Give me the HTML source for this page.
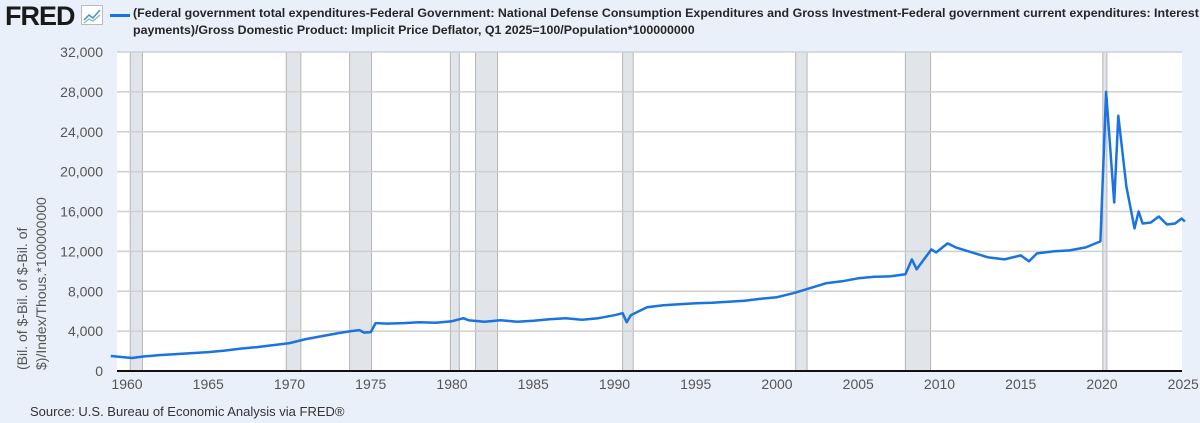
<!DOCTYPE html>
<html><head><meta charset="utf-8"><style>
body{margin:0;width:1200px;height:423px;background:#eaf0f9;font-family:"Liberation Sans",sans-serif;overflow:hidden;position:relative}
.t{position:absolute;left:133px;top:5px;font-size:12.4px;font-weight:bold;color:#262626;line-height:17px;width:1066px}
</style></head><body>
<div style="position:absolute;left:5px;top:1px;font-size:27px;font-weight:900;color:#1a1a1a;letter-spacing:-1px">FRED</div>
<svg style="position:absolute;left:81px;top:5px" width="22" height="20"><rect x="0.5" y="0.5" width="21" height="19" fill="#fff" stroke="#bbb"/><polyline points="3,15 8,10 12,13 19,5" fill="none" stroke="#4a8fd6" stroke-width="1.5"/><polyline points="3,18 8,14 12,16 19,10" fill="none" stroke="#7cc0a8" stroke-width="1.2"/></svg>
<div style="position:absolute;left:110px;top:14px;width:20px;height:3px;background:#1a73e0"></div>
<div class="t">(Federal government total expenditures-Federal Government: National Defense Consumption Expenditures and Gross Investment-Federal government current expenditures: Interest payments)/Gross Domestic Product: Implicit Price Deflator, Q1 2025=100/Population*100000000</div>
<div style="position:absolute;left:30px;top:404px;font-size:13px;color:#333">Source: U.S. Bureau of Economic Analysis via FRED®</div>
<svg id="c" width="1200" height="423" style="position:absolute;left:0;top:0"></svg>
<script>
const years=[1959,1960.3,1961,1962,1963,1964,1965,1966,1967,1968,1969,1970,1970.5,1971,1972,1973,1973.8,1974.3,1974.6,1975,1975.3,1976,1977,1978,1979,1980,1980.7,1981,1982,1983,1984,1985,1986,1987,1988,1989,1990,1990.5,1990.75,1991,1992,1993,1994,1995,1996,1997,1998,1999,2000,2001,2002,2003,2004,2005,2006,2007,2007.9,2008.3,2008.6,2009,2009.5,2009.8,2010.5,2011,2012,2013,2014,2015,2015.5,2016,2017,2018,2019,2019.9,2020.25,2020.75,2021,2021.5,2022,2022.25,2022.5,2023,2023.5,2024,2024.5,2024.9,2025.1];
const values=[1500,1300,1450,1600,1700,1800,1900,2050,2250,2400,2600,2800,3000,3200,3500,3800,4000,4100,3850,3900,4800,4750,4800,4900,4850,5000,5300,5100,4950,5100,4950,5050,5200,5300,5150,5300,5600,5800,4900,5600,6400,6600,6700,6800,6850,6950,7050,7250,7400,7800,8300,8800,9000,9300,9450,9500,9700,11200,10200,11100,12200,11900,12800,12400,11900,11400,11200,11600,11000,11800,12000,12100,12400,13000,28000,16900,25600,18500,14300,16000,14800,14900,15500,14700,14800,15300,15000];
const yTicks=[0,4000,8000,12000,16000,20000,24000,28000,32000];
const xTicks=[1960,1965,1970,1975,1980,1985,1990,1995,2000,2005,2010,2015,2020,2025];
const recessions=[[1960.2,1960.95],[1969.8,1970.7],[1973.7,1975.05],[1979.9,1980.45],[1981.45,1982.8],[1990.5,1991.15],[2001.15,2001.85],[2007.9,2009.45],[2020.05,2020.3]];
const L=117,R=1182,T=52,B=371;
const X=y=>127+(y-1960)*16.25, Y=v=>B-v/32000*(B-T);
const s=document.getElementById('c'),NS='http://www.w3.org/2000/svg';
function mk(t,a){const e=document.createElementNS(NS,t);for(const k in a)e.setAttribute(k,a[k]);s.appendChild(e);return e;}
let bg=mk('rect',{x:L,y:T,width:R-L,height:B-T,fill:'#fff'});


recessions.forEach(r=>{const e=mk('rect',{x:X(r[0]),y:T,width:X(r[1])-X(r[0]),height:B-T,fill:'#e1e5ea',stroke:'#b5b5b5','stroke-width':1});

});
yTicks.forEach(v=>{const g=mk('line',{x1:L,x2:R,y1:Y(v),y2:Y(v),stroke:'#cfcfcf','stroke-width':1.5});


const t=mk('text',{x:103,y:Y(v)+5,'text-anchor':'end','font-size':14,fill:'#555'});t.textContent=v.toLocaleString('en-US');

});
xTicks.forEach(y=>{const t=mk('text',{x:X(y),y:389,'text-anchor':'middle','font-size':14,fill:'#555'});t.textContent=y;

});
const ax=mk('line',{x1:L,x2:R,y1:B,y2:B,stroke:'#111','stroke-width':2});


const ln=mk('polyline',{points:years.map((y,i)=>X(y).toFixed(1)+','+Y(values[i]).toFixed(1)).join(' '),fill:'none',stroke:'#1a73e0','stroke-width':2.5,'stroke-linejoin':'round'});


const yl=mk('text',{transform:'translate(27,370) rotate(-90)','font-size':14,fill:'#555'});


const t1=mk('tspan',{x:0,dy:0});t1.textContent='(Bil. of $-Bil. of $-Bil. of';yl.appendChild(t1);
const t2=mk('tspan',{x:0,dy:19});t2.textContent='$)/Index/Thous.*100000000';yl.appendChild(t2);
</script>
</body></html>
